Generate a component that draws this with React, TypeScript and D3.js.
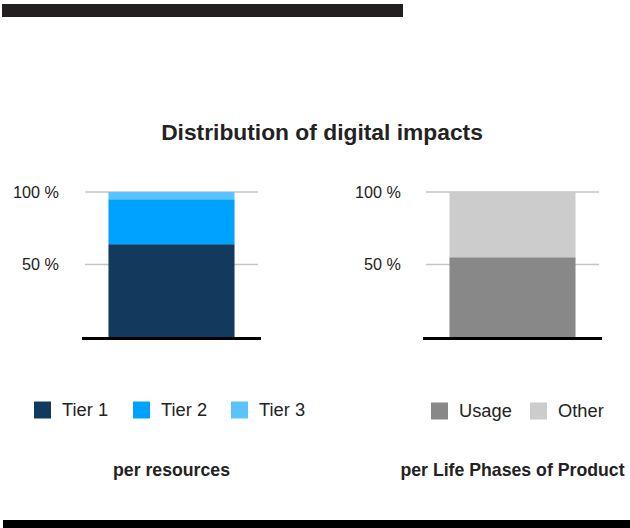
import React from "react";
import * as d3 from "d3";

const title = "Distribution of digital impacts";
const leftCategory = ["per resources"];
const tierSeries = ["Tier 1", "Tier 2", "Tier 3"];
const tierValues = [64, 31, 5];
const tierColors = ["#113a5c", "#00a2ff", "#5ac3fe"];
const rightCategory = ["per Life Phases of Product"];
const phaseSeries = ["Usage", "Other"];
const phaseValues = [55, 45];
const phaseColors = ["#888888", "#cccccc"];
const yTicks = [50, 100];
const tickLabel = (v: number) => `${v} %`;

const FONT = "'Liberation Sans', Arial, Helvetica, sans-serif";

function Panel({
  x0, x1, category, series, values, colors, legendX, legendGaps, legendY, tickRight,
}: {
  x0: number; x1: number; category: string[]; series: string[]; values: number[]; colors: string[];
  legendX: number; legendGaps: number[]; legendY: number; tickRight: number;
}) {
  const y = d3.scaleLinear().domain([0, 100]).range([337, 192]);
  const x = d3.scaleBand<string>().domain(category).range([x0, x1]).paddingInner(0.157).paddingOuter(0.157);
  const stackData = [Object.fromEntries(series.map((s, i) => [s, values[i]]))];
  const stacked = d3.stack<any>().keys(series)(stackData as any);
  const bx = x(category[0])!;
  const bw = x.bandwidth();
  let lx = legendX;
  const legendPositions = series.map((s, i) => {
    const p = lx;
    lx += legendGaps[i];
    return p;
  });
  return (
    <g>
      {yTicks.map((t) => (
        <g key={t}>
          <line x1={x0} x2={x1} y1={y(t)} y2={y(t)} stroke="#c4c4c4" strokeWidth={1.5} />
          <text x={tickRight} y={y(t)} dy="0.35em" textAnchor="end" fontSize={16.2} fill="#222" fontFamily={FONT}>
            {tickLabel(t)}
          </text>
        </g>
      ))}
      {stacked.map((layer, i) => (
        <rect key={series[i]} x={bx} width={bw} y={y(layer[0][1])} height={y(layer[0][0]) - y(layer[0][1])} fill={colors[i]} />
      ))}
      <line x1={x0 - 3} x2={x1 + 3} y1={338.5} y2={338.5} stroke="#000" strokeWidth={3} />
      {series.map((s, i) => (
        <g key={s} transform={`translate(${legendPositions[i]},${legendY})`}>
          <rect x={0} y={0} width={17} height={17} fill={colors[i]} />
          <text x={28} y={14} fontSize={18.3} fill="#222" fontFamily={FONT}>{s}</text>
        </g>
      ))}
      <text x={bx + bw / 2} y={476} textAnchor="middle" fontSize={17.7} fontWeight="bold" fill="#222" fontFamily={FONT}>
        {category[0]}
      </text>
    </g>
  );
}

export default function App() {
  return (
    <svg width={630} height={528} style={{ position: "absolute", left: 0, top: 0 }}>
      <rect x={0} y={0} width={630} height={528} fill="#fff" />
      <rect x={2} y={4} width={401} height={13} fill="#231f20" />
      <text x={322} y={140} textAnchor="middle" fontSize={22.8} fontWeight="bold" fill="#222" fontFamily={FONT}>
        {title}
      </text>
      <Panel x0={85} x1={258} category={leftCategory} series={tierSeries} values={tierValues} colors={tierColors}
        legendX={34} legendGaps={[99, 98, 0]} legendY={401.5} tickRight={59} />
      <Panel x0={426} x1={599} category={rightCategory} series={phaseSeries} values={phaseValues} colors={phaseColors}
        legendX={431} legendGaps={[99, 0]} legendY={402.5} tickRight={401} />
      <rect x={3} y={520} width={627} height={8} fill="#000" />
    </svg>
  );
}
